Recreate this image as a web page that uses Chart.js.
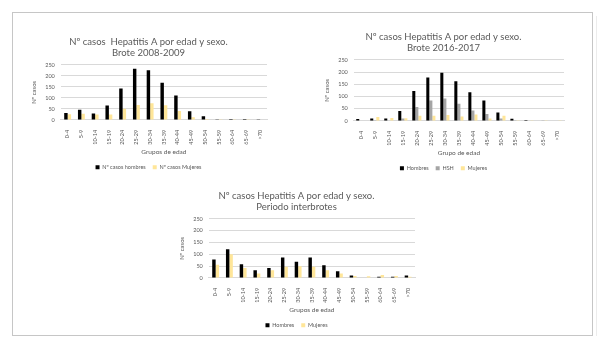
<!DOCTYPE html>
<html>
<head>
<meta charset="utf-8">
<script src="https://cdn.jsdelivr.net/npm/chart.js@4/dist/chart.umd.min.js"></script>
<style>
body{margin:0;width:605px;height:346px;background:#fff;position:relative;overflow:hidden;font-family:Lato,sans-serif;}
#marco{position:absolute;left:12px;top:12px;width:579px;height:322px;border:1px solid #c6c6c6;}
#sombra{position:absolute;left:596px;top:16px;width:1px;height:320px;background:#ececec;}
canvas{position:absolute;}
#c1{left:18px;top:32px;}
#c2{left:315px;top:27px;}
#c3{left:168px;top:186px;}
</style>
</head>
<body>
<div id="marco"></div>
<div id="sombra"></div>
<canvas id="c1" width="260" height="152"></canvas>
<canvas id="c2" width="260" height="158"></canvas>
<canvas id="c3" width="260" height="156"></canvas>
<script>
const grupos=['0-4','5-9','10-14','15-19','20-24','25-29','30-34','35-39','40-44','45-49','50-54','55-59','60-64','65-69','>70'];
const yTicks=[0,50,100,150,200,250];

// brote 2008-2009
const hombres0809=[31,46,29,65,142,232,225,168,111,39,17,3,4,4,3];
const mujeres0809=[26,28,24,24,51,68,76,67,40,12,4,1,1,1,2];
// brote 2016-2017
const hombres1617=[8,10,10,41,122,178,197,162,117,83,34,9,4,0,2];
const hsh1617=[0,1,0,10,57,83,92,70,43,28,10,1,2,1,0];
const mujeres1617=[2,16,12,11,21,21,24,18,26,10,21,1,1,1,1];
// periodo interbrotes
const hombresInter=[78,121,58,32,42,86,68,86,53,28,10,0,5,5,10];
const mujeresInter=[56,100,42,19,32,47,49,47,32,19,8,7,12,8,5];

const negro='#000000',amarillo='#FFE699',gris='#A5A5A5',texto='#595959',rejilla='#D9D9D9';
const fuente='Lato, sans-serif';

function hacer_grafico(id,titulo,ejeX,datasets,cat,pad)
{
    let ctx=document.querySelector(id).getContext('2d');
    return new Chart(ctx,{
        type:'bar',
        data:{labels:grupos,datasets:datasets},
        options:{
            responsive:false,
            animation:false,
            layout:{padding:pad},
            datasets:{bar:{categoryPercentage:cat,barPercentage:1}},
            plugins:{
                title:{display:true,text:titulo,color:texto,font:{family:fuente,size:9.5,weight:'normal',lineHeight:1.2},padding:{top:4,bottom:6}},
                legend:{position:'bottom',labels:{color:texto,boxWidth:4,boxHeight:4,padding:7,font:{family:fuente,size:5.5}}},
                tooltip:{enabled:false}
            },
            scales:{
                x:{
                    grid:{display:false},
                    border:{color:rejilla},
                    ticks:{color:texto,minRotation:90,maxRotation:90,autoSkip:false,padding:2,font:{family:fuente,size:5.5}},
                    title:{display:true,text:ejeX,color:texto,padding:{top:1,bottom:2},font:{family:fuente,size:6.5}}
                },
                y:{
                    min:0,max:250,
                    afterBuildTicks:(ax)=>{ax.ticks=yTicks.map(v=>({value:v}));},
                    grid:{color:rejilla,drawTicks:false},
                    border:{display:false},
                    ticks:{color:texto,padding:6,font:{family:fuente,size:5.5}},
                    title:{display:true,text:'Nº casos',color:texto,padding:{top:0,bottom:2},font:{family:fuente,size:6}}
                }
            }
        }
    });
}

hacer_grafico('#c1',['Nº casos  Hepatitis A por edad y sexo.','Brote 2008-2009'],'Grupos de edad',[
    {label:'Nº casos hombres',data:hombres0809,backgroundColor:negro},
    {label:'Nº casos Mujeres',data:mujeres0809,backgroundColor:amarillo}
],0.5,{left:12,right:11,bottom:4});

hacer_grafico('#c2',['Nº casos Hepatitis A por edad y sexo.','Brote 2016-2017'],'Grupo de edad',[
    {label:'Hombres',data:hombres1617,backgroundColor:negro},
    {label:'HSH',data:hsh1617,backgroundColor:gris},
    {label:'Mujeres',data:mujeres1617,backgroundColor:amarillo}
],0.65,{left:8,right:11,bottom:4});

hacer_grafico('#c3',['Nº casos Hepatitis A por edad y sexo.','Periodo interbrotes'],'Grupos de edad',[
    {label:'Hombres',data:hombresInter,backgroundColor:negro},
    {label:'Mujeres',data:mujeresInter,backgroundColor:amarillo}
],0.5,{left:10,right:13,bottom:4});
</script>
</body>
</html>
